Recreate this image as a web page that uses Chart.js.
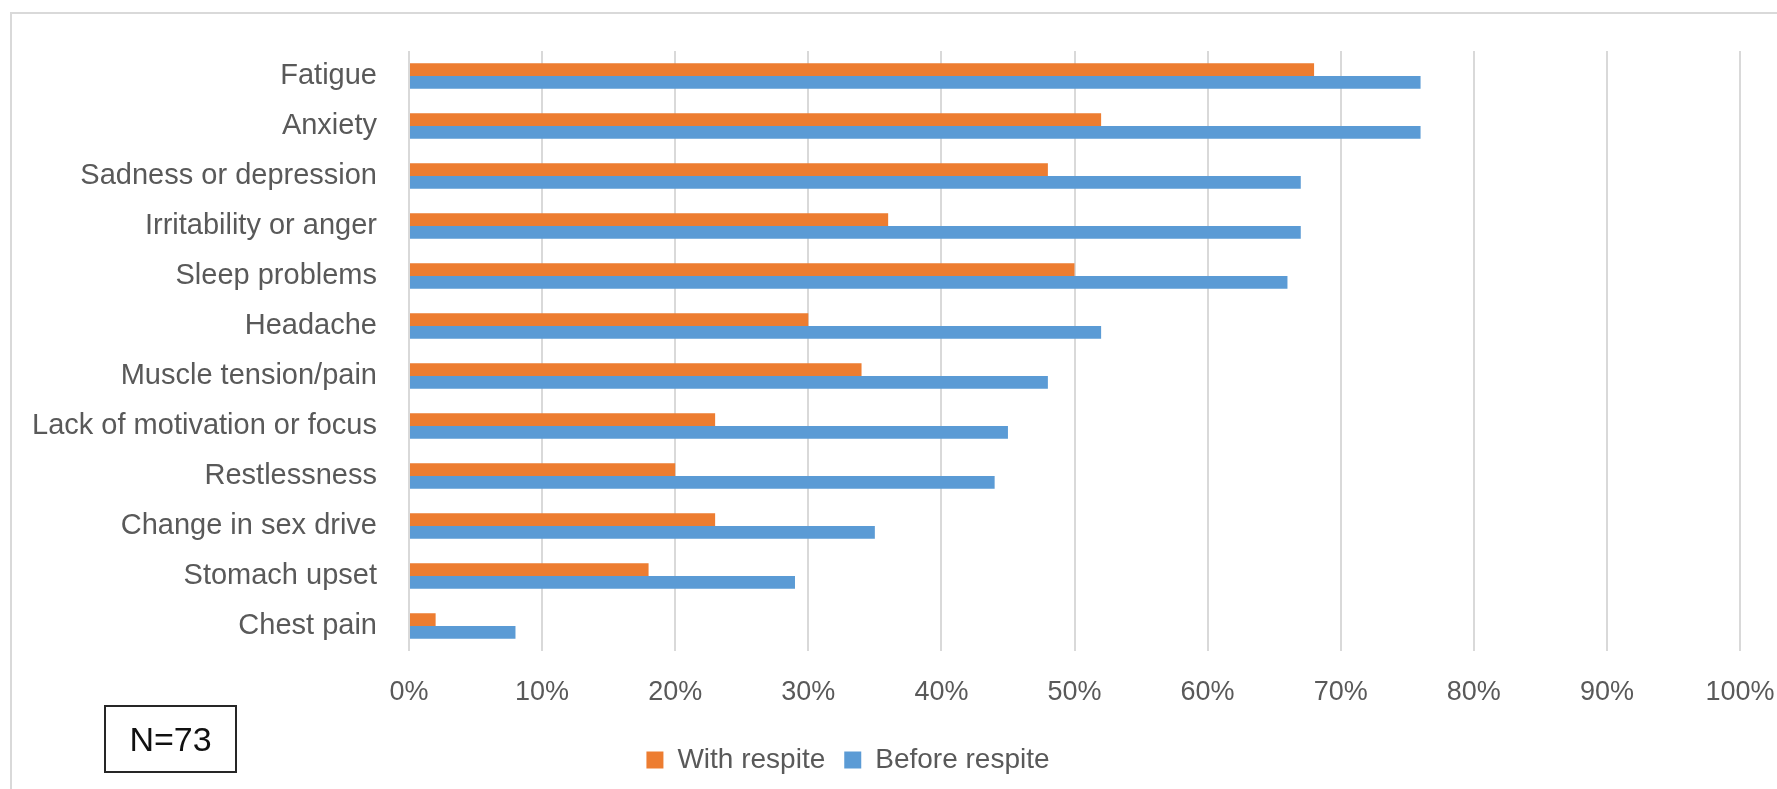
<!DOCTYPE html>
<html>
<head>
<meta charset="utf-8">
<script src="https://cdn.jsdelivr.net/npm/chart.js@4"></script>
<style>
  html, body { margin: 0; padding: 0; background: #fff; overflow: hidden; }
  body { width: 1777px; height: 789px; position: relative; }
  #frame {
    position: absolute; left: 10px; top: 12px; width: 1800px; height: 800px;
    border: 2px solid #d9d9d9; box-sizing: border-box;
  }
  #wrap { position: absolute; left: -44px; top: 0; width: 1820px; height: 789px; }
  #nBox {
    position: absolute; left: 104px; top: 705px; width: 133px; height: 68px;
    border: 2px solid #262626; box-sizing: border-box;
    font: 34px "Liberation Sans", Arial, sans-serif; color: #111;
    display: flex; align-items: center; justify-content: center;
  }
</style>
</head>
<body>
<div id="frame"></div>
<div id="wrap"><canvas id="chart"></canvas></div>
<div id="nBox">N=73</div>

<script>
// data (percent)
const categories = [
  'Fatigue', 'Anxiety', 'Sadness or depression', 'Irritability or anger',
  'Sleep problems', 'Headache', 'Muscle tension/pain', 'Lack of motivation or focus',
  'Restlessness', 'Change in sex drive', 'Stomach upset', 'Chest pain'
];
const withRespite   = [68, 52, 48, 36, 50, 30, 34, 23, 20, 23, 18, 2];
const beforeRespite = [76, 76, 67, 67, 66, 52, 48, 45, 44, 35, 29, 8];
const xTicks = [0, 10, 20, 30, 40, 50, 60, 70, 80, 90, 100];

const FONT = '"Liberation Sans", Arial, sans-serif';
const GRAY = '#595959';

new Chart(document.getElementById('chart'), {
  type: 'bar',
  data: {
    labels: categories,
    datasets: [
      { label: 'With respite', data: withRespite, backgroundColor: '#ED7D31' },
      { label: 'Before respite', data: beforeRespite, backgroundColor: '#5B9BD5' }
    ]
  },
  options: {
    indexAxis: 'y',
    responsive: true,
    maintainAspectRatio: false,
    animation: false,
    datasets: { bar: { barPercentage: 1, categoryPercentage: 0.51, borderWidth: 0 } },
    layout: { padding: { left: 0, right: 36, top: 51, bottom: 5 } },
    scales: {
      x: {
        min: 0, max: 100,
        afterBuildTicks: s => { s.ticks = xTicks.map(v => ({ value: v })); },
        afterFit: s => { s.height = 76; s.paddingLeft = 0; s.paddingRight = 0; },
        grid: { color: '#d9d9d9', lineWidth: 2, drawTicks: false },
        border: { display: false },
        ticks: {
          padding: 25, color: GRAY, font: { family: FONT, size: 27 },
          maxRotation: 0, callback: v => v + '%'
        }
      },
      y: {
        afterFit: s => { s.width = 453; s.paddingTop = 0; s.paddingBottom = 0; },
        grid: { display: false, drawTicks: false },
        border: { display: false },
        ticks: { padding: 32, color: GRAY, font: { family: FONT, size: 29 } }
      }
    },
    plugins: {
      legend: {
        position: 'bottom',
        labels: {
          boxWidth: 17, boxHeight: 17, padding: 19,
          color: GRAY, font: { family: FONT, size: 28 }
        }
      },
      tooltip: { enabled: false }
    }
  }
});
</script>
</body>
</html>
